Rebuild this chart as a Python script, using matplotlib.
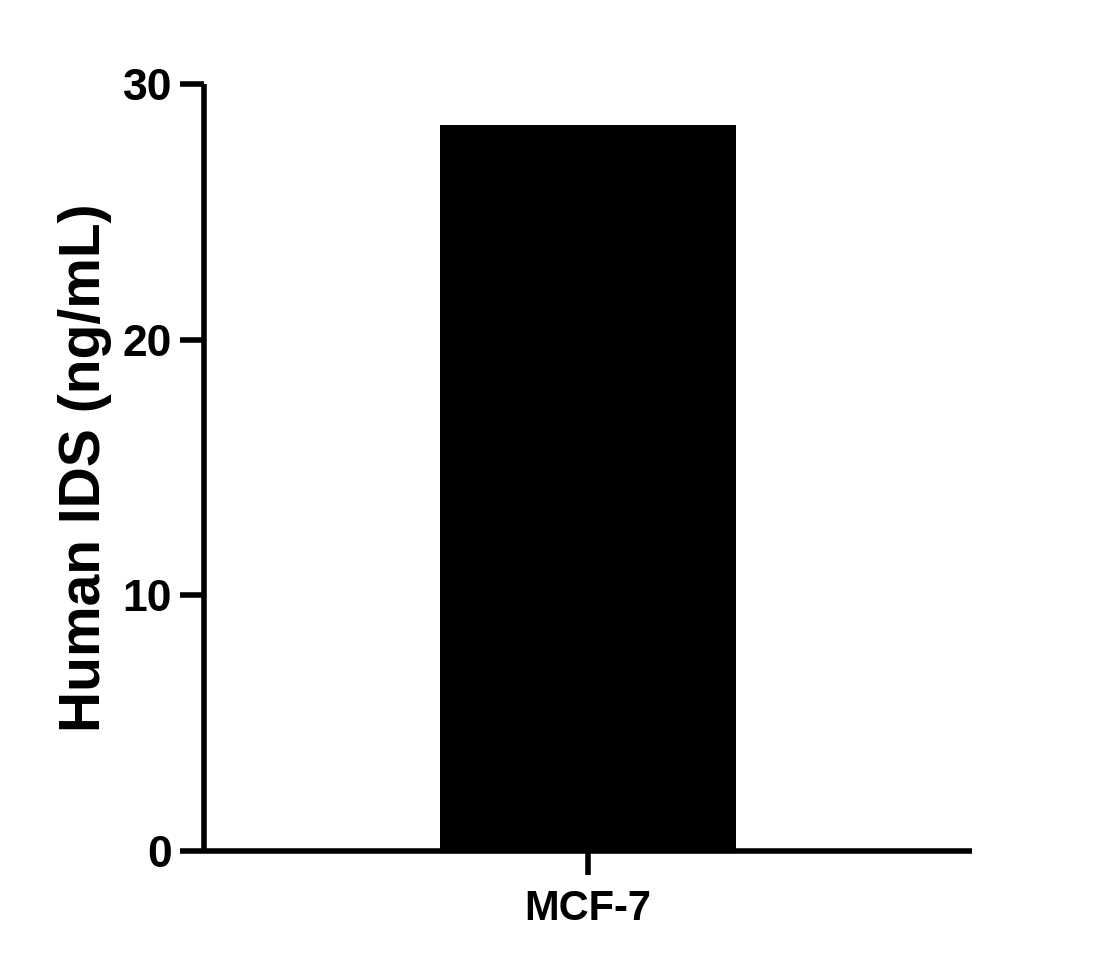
import matplotlib
matplotlib.use("Agg")
import matplotlib.pyplot as plt

categories = ["MCF-7"]
values = [28.4]
yticks = [0, 10, 20, 30]
ylabel = "Human IDS (ng/mL)"

plt.rcParams['font.family'] = ['Liberation Sans', 'DejaVu Sans']
plt.rcParams['font.weight'] = 'bold'

fig = plt.figure(figsize=(11.1, 9.68), dpi=100)
ax = fig.add_axes([204/1110, 1-851/968, (972-204)/1110, (851-84)/968])

x = list(range(len(categories)))
ax.bar(x, values, width=0.77, color='black', edgecolor='black', linewidth=0)
ax.set_xlim(-1, 1)
ax.set_ylim(0, 30)
ax.set_yticks(yticks)
ax.set_xticks(x)
ax.set_xticklabels(categories)

for s in ['top', 'right']:
    ax.spines[s].set_visible(False)
for s in ['left', 'bottom']:
    ax.spines[s].set_linewidth(4)
    ax.spines[s].set_capstyle('butt')

ax.tick_params(axis='both', width=4, length=17, direction='out')
ax.tick_params(axis='y', pad=6, labelsize=32)
ax.tick_params(axis='x', pad=10, labelsize=30)
for lab in ax.get_xticklabels() + ax.get_yticklabels():
    lab.set_fontweight('bold')

ax.set_ylabel(ylabel, fontsize=41, fontweight='bold')
ax.yaxis.set_label_coords(-0.12, 0.5)

fig.savefig("out.png", dpi=100)
